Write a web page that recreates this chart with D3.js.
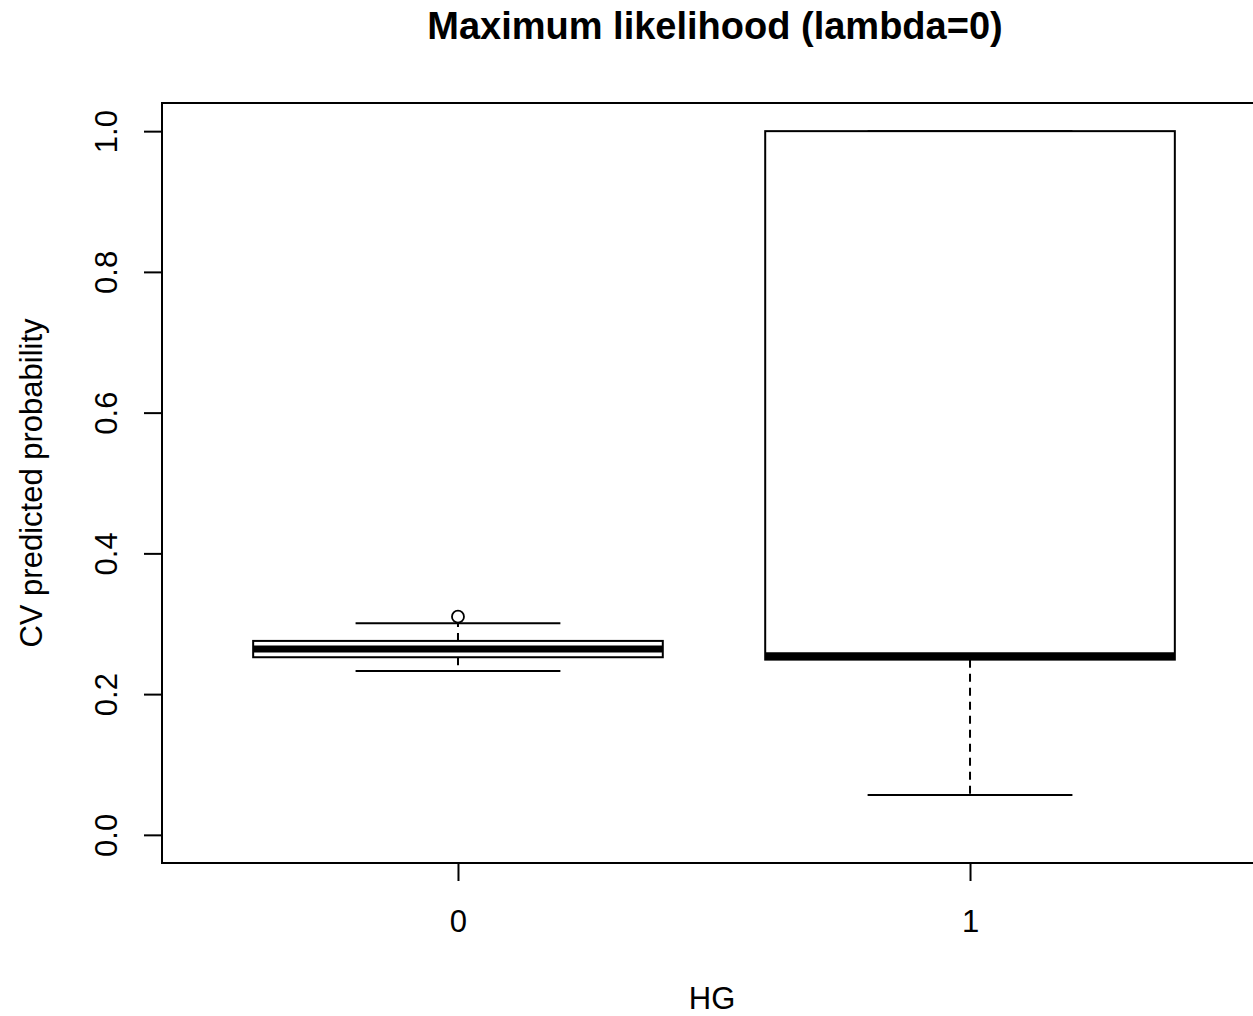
<!DOCTYPE html>
<html>
<head>
<meta charset="utf-8">
<script src="https://cdn.jsdelivr.net/npm/d3@7"></script>
<style>
  html, body { margin: 0; padding: 0; background: #fff; overflow: hidden; }
  svg { display: block; font-family: "Liberation Sans", Arial, sans-serif; }
</style>
</head>
<body>
<svg id="chart" width="1253" height="1016"></svg>
<script>
// Groups on the x axis
const categories = ["0", "1"];
// Five-number summaries per group: lower whisker, Q1, median, Q3, upper whisker
const lowerWhisker = [0.233, 0.0568];
const lowerHinge   = [0.2524, 0.249];
const medians      = [0.2642, 0.2545];
const upperHinge   = [0.2756, 1.0];
const upperWhisker = [0.3007, 1.0];
// Points beyond the whiskers
const outliers = [[0.3101], []];
// Axis ticks
const yTicks = [0.0, 0.2, 0.4, 0.6, 0.8, 1.0];

const title = "Maximum likelihood (lambda=0)";
const xTitle = "HG";
const yTitle = "CV predicted probability";

const svg = d3.select("#chart");
const plotLeft = 162, plotRight = 1268, plotTop = 103, plotBottom = 863;

// Positions 1..n with R-style padding
const x = d3.scaleLinear().domain([0.42, 2.58]).range([plotLeft - 1, plotRight - 1]);
const y = d3.scaleLinear().domain([-0.04, 1.04]).range([plotBottom, plotTop]);

const boxHalf = 0.4, stapleHalf = 0.2;

// Plot frame
svg.append("rect")
  .attr("x", plotLeft).attr("y", plotTop)
  .attr("width", plotRight - plotLeft).attr("height", plotBottom - plotTop)
  .attr("fill", "none").attr("stroke", "#000").attr("stroke-width", 2);

const groups = svg.selectAll("g.box")
  .data(categories.map((c, i) => ({
    c, pos: i + 1,
    lw: lowerWhisker[i], q1: lowerHinge[i], med: medians[i],
    q3: upperHinge[i], uw: upperWhisker[i], out: outliers[i]
  })))
  .join("g").attr("class", "box");

// Dashed whiskers
groups.append("line")
  .attr("x1", d => x(d.pos)).attr("x2", d => x(d.pos))
  .attr("y1", d => y(d.q1)).attr("y2", d => y(d.lw))
  .attr("stroke", "#000").attr("stroke-width", 2).attr("stroke-dasharray", "8,6");
groups.append("line")
  .attr("x1", d => x(d.pos)).attr("x2", d => x(d.pos))
  .attr("y1", d => y(d.q3)).attr("y2", d => y(d.uw))
  .attr("stroke", "#000").attr("stroke-width", 2).attr("stroke-dasharray", "8,6");

// Staples
groups.selectAll("line.staple")
  .data(d => [d.lw, d.uw].map(v => ({ v, pos: d.pos })))
  .join("line").attr("class", "staple")
  .attr("x1", d => x(d.pos - stapleHalf)).attr("x2", d => x(d.pos + stapleHalf))
  .attr("y1", d => y(d.v)).attr("y2", d => y(d.v))
  .attr("stroke", "#000").attr("stroke-width", 2);

// Boxes
groups.append("rect")
  .attr("x", d => x(d.pos - boxHalf))
  .attr("y", d => y(d.q3))
  .attr("width", d => x(d.pos + boxHalf) - x(d.pos - boxHalf))
  .attr("height", d => y(d.q1) - y(d.q3))
  .attr("fill", "#fff").attr("stroke", "#000").attr("stroke-width", 2);

// Medians
groups.append("line")
  .attr("x1", d => x(d.pos - boxHalf)).attr("x2", d => x(d.pos + boxHalf))
  .attr("y1", d => y(d.med)).attr("y2", d => y(d.med))
  .attr("stroke", "#000").attr("stroke-width", 7);

// Outliers
groups.selectAll("circle")
  .data(d => d.out.map(v => ({ v, pos: d.pos })))
  .join("circle")
  .attr("cx", d => x(d.pos)).attr("cy", d => y(d.v)).attr("r", 6)
  .attr("fill", "none").attr("stroke", "#000").attr("stroke-width", 1.8);

// Y axis
const yAxis = svg.append("g").attr("transform", `translate(${plotLeft},0)`)
  .call(d3.axisLeft(y).tickValues(yTicks).tickSize(18).tickFormat(d3.format(".1f")));
yAxis.select(".domain").remove();
yAxis.selectAll(".tick line").attr("stroke", "#000").attr("stroke-width", 2);
yAxis.selectAll(".tick text")
  .attr("x", 0).attr("y", -45).attr("dy", null)
  .attr("text-anchor", "middle")
  .attr("transform", "rotate(-90)")
  .attr("font-size", 31).attr("fill", "#000")
  .style("font-family", "'Liberation Sans', Arial, sans-serif");

// X axis
const xAxis = svg.append("g").attr("transform", `translate(0,${plotBottom})`)
  .call(d3.axisBottom(x).tickValues([1, 2]).tickSize(18)
    .tickFormat((d, i) => categories[i]));
xAxis.select(".domain").remove();
xAxis.selectAll(".tick line").attr("stroke", "#000").attr("stroke-width", 2);
xAxis.selectAll(".tick text")
  .attr("y", 69).attr("dy", null)
  .attr("font-size", 31).attr("fill", "#000")
  .style("font-family", "'Liberation Sans', Arial, sans-serif");

// Titles
svg.append("text")
  .attr("x", 715).attr("y", 39)
  .attr("text-anchor", "middle")
  .attr("font-size", 38).attr("font-weight", "bold")
  .text(title);

svg.append("text")
  .attr("x", 712).attr("y", 1009)
  .attr("text-anchor", "middle")
  .attr("font-size", 31)
  .text(xTitle);

svg.append("text")
  .attr("transform", `translate(42,${(plotTop + plotBottom) / 2}) rotate(-90)`)
  .attr("text-anchor", "middle")
  .attr("font-size", 31)
  .text(yTitle);
</script>
</body>
</html>
